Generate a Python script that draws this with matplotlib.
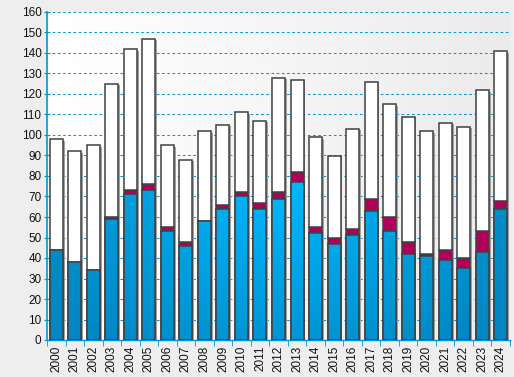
import numpy as np
import matplotlib
matplotlib.use("Agg")
import matplotlib.pyplot as plt
from matplotlib.colors import LinearSegmentedColormap

years = [str(y) for y in range(2000, 2025)]
blue = [44, 38, 34, 59, 71, 73, 53, 46, 58, 64, 70, 64, 69, 77, 52, 47, 51, 63, 53, 42, 41, 39, 35, 43, 64]
crimson = [0, 0, 0, 1, 2, 3, 2, 2, 0, 2, 2, 3, 3, 5, 3, 3, 3, 6, 7, 6, 1, 5, 5, 10, 4]
total = [98, 92, 95, 125, 142, 147, 95, 88, 102, 105, 111, 107, 128, 127, 99, 90, 103, 126, 115, 109, 102, 106, 104, 122, 141]
white = [t - b - c for t, b, c in zip(total, blue, crimson)]

plt.rcParams['font.family'] = ['Liberation Sans', 'DejaVu Sans']

fig = plt.figure(figsize=(5.14, 3.77), dpi=100)
fig.patch.set_facecolor('#eeeeee')
ax = fig.add_axes([47 / 514, 37 / 377, 463 / 514, 328 / 377])

x = np.arange(len(years))
w = 0.7
ax.set_xlim(-0.5, len(years) - 0.5)
ax.set_ylim(0, 160)

# plot area background: white on the left, light grey on the right
bg = np.linspace(1.0, 0.92, 256).reshape(1, -1)
ax.imshow(bg, cmap='gray', vmin=0, vmax=1, extent=[-0.5, len(years) - 0.5, 0, 160],
          aspect='auto', zorder=0)

ax.yaxis.grid(True, color='#0096d6', linestyle=(0, (2.5, 2.5)), linewidth=0.75, zorder=1)
ax.set_axisbelow(True)

bottom2 = [b + c for b, c in zip(blue, crimson)]

# shadows
ax.bar(x + 0.1, total, w, bottom=-0.8, color='#a0a0a0', linewidth=0, zorder=2)

bars_blue = ax.bar(x, blue, w, color='#00a6e6', edgecolor='#404040', linewidth=1.1, zorder=3)
ax.bar(x, crimson, w, bottom=blue, color='#b0005a', edgecolor='#404040', linewidth=1.1, zorder=3)
ax.bar(x, white, w, bottom=bottom2, color='white', edgecolor='#404040', linewidth=1.1, zorder=3)

# radial-ish gradient in the blue segments
gx, gy = np.meshgrid(np.linspace(-0.5, len(years) - 0.5, 200), np.linspace(0, 160, 200))
dist = np.sqrt(((gx - 12) / 14) ** 2 + ((gy - 80) / 110) ** 2)
cmap = LinearSegmentedColormap.from_list('bl', ['#00baff', '#0088c4'])
for bar in bars_blue:
    im = ax.imshow(dist, cmap=cmap, vmin=0, vmax=1, origin='lower',
                   extent=[-0.5, len(years) - 0.5, 0, 160], aspect='auto', zorder=3.5)
    im.set_clip_path(bar)
    edge = plt.Rectangle(bar.get_xy(), bar.get_width(), bar.get_height(), fill=False,
                         edgecolor='#404040', linewidth=1.1, zorder=3.6)
    ax.add_patch(edge)

ax.set_yticks(np.arange(0, 161, 10))
ax.set_xticks(x)
ax.set_xticklabels(years, rotation=90)
ax.set_xticks(np.arange(-0.5, len(years), 1), minor=True)
ax.tick_params(axis='x', which='major', length=0, pad=4, labelsize=8.5, labelcolor='#111111')
ax.tick_params(axis='x', which='minor', length=4, color='#0096d6', direction='out')
ax.tick_params(axis='y', length=4, color='#0096d6', direction='inout', labelsize=8.5,
               labelcolor='#111111', pad=2)

for s in ['top', 'right']:
    ax.spines[s].set_visible(False)
ax.spines['left'].set_color('#0096d6')
ax.spines['bottom'].set_color('#0096d6')
ax.spines['left'].set_linewidth(1.2)
ax.spines['bottom'].set_linewidth(1.0)

fig.savefig('out.png', dpi=100, facecolor=fig.get_facecolor())
